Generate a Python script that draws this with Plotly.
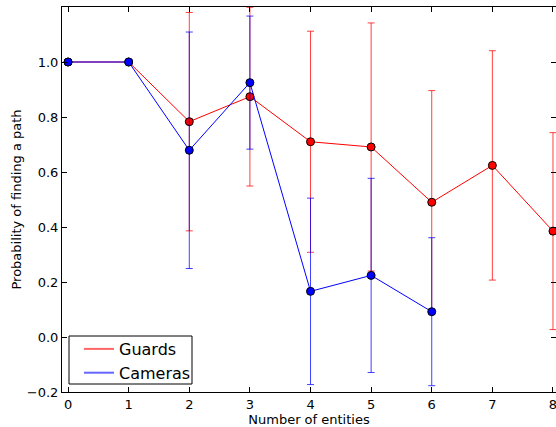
import plotly.graph_objects as go

entities = [0, 1, 2, 3, 4, 5, 6, 7, 8]
guards_mean = [1.0, 1.0, 0.783, 0.874, 0.710, 0.691, 0.490, 0.624, 0.385]
guards_err = [0.0, 0.0, 0.397, 0.325, 0.402, 0.451, 0.406, 0.417, 0.358]

camera_entities = [0, 1, 2, 3, 4, 5, 6]
cameras_mean = [1.0, 1.0, 0.679, 0.925, 0.166, 0.224, 0.092]
cameras_err = [0.0, 0.0, 0.430, 0.242, 0.339, 0.353, 0.269]

y_ticks = [-0.2, 0.0, 0.2, 0.4, 0.6, 0.8, 1.0]
x_ticks = [0, 1, 2, 3, 4, 5, 6, 7, 8]

FONT = "DejaVu Sans"

fig = go.Figure()

fig.add_trace(go.Scatter(
    x=entities, y=guards_mean, mode="lines+markers", showlegend=False,
    line=dict(color="#ff0000", width=1),
    marker=dict(color="#ff0000", size=8, line=dict(color="black", width=1)),
    error_y=dict(type="data", array=guards_err, visible=True,
                 color="rgba(255,0,0,0.75)", thickness=1, width=3.5),
    cliponaxis=True,
))
fig.add_trace(go.Scatter(
    x=camera_entities, y=cameras_mean, mode="lines+markers", showlegend=False,
    line=dict(color="#0000ff", width=1),
    marker=dict(color="#0000ff", size=8, line=dict(color="black", width=1)),
    error_y=dict(type="data", array=cameras_err, visible=True,
                 color="rgba(0,0,255,0.75)", thickness=1, width=3.5),
    cliponaxis=True,
))
# legend entries (lines only)
fig.add_trace(go.Scatter(x=[None], y=[None], mode="lines", name="Guards",
                         line=dict(color="rgba(255,0,0,0.6)", width=2)))
fig.add_trace(go.Scatter(x=[None], y=[None], mode="lines", name="Cameras",
                         line=dict(color="rgba(0,0,255,0.6)", width=2)))

axis_common = dict(
    showgrid=False, zeroline=False, showline=True, linecolor="black", linewidth=1,
    mirror="ticks", ticks="inside", ticklen=5, tickcolor="black", tickwidth=1,
    tickfont=dict(family=FONT, size=13, color="black"),
    ticklabeloverflow="allow",
)

fig.update_layout(
    width=556, height=427,
    margin=dict(l=62, r=0, t=7, b=35),
    paper_bgcolor="white", plot_bgcolor="white",
    font=dict(family=FONT, size=13, color="black"),
    xaxis=dict(range=[-0.1, 8.05], tickvals=x_ticks, ticktext=[str(v) for v in x_ticks],
               title=dict(text="Number of entities", font=dict(family=FONT, size=13), standoff=1),
               **axis_common),
    yaxis=dict(range=[-0.2, 1.2], tickvals=y_ticks, ticktext=["−0.2", "0.0", "0.2", "0.4", "0.6", "0.8", "1.0"],
               title=dict(text="Probability of finding a path", font=dict(family=FONT, size=13), standoff=2),
               **axis_common),
    legend=dict(x=(79 - 62) / 494, y=2 / 385, xanchor="left", yanchor="bottom",
                bgcolor="rgba(0,0,0,0)", borderwidth=0,
                font=dict(family=FONT, size=16, color="black"),
                tracegroupgap=0, itemwidth=30),
    shapes=[dict(type="rect", xref="paper", yref="paper",
                 x0=(69 - 62) / 494, x1=(192 - 62) / 494,
                 y0=(392 - 384) / 385, y1=(392 - 336) / 385,
                 line=dict(color="black", width=1), fillcolor="white", layer="above")],
)

fig.write_html("out.html", config={"displayModeBar": False},
               post_script="document.body.style.margin='0';document.body.style.overflow='hidden';")
